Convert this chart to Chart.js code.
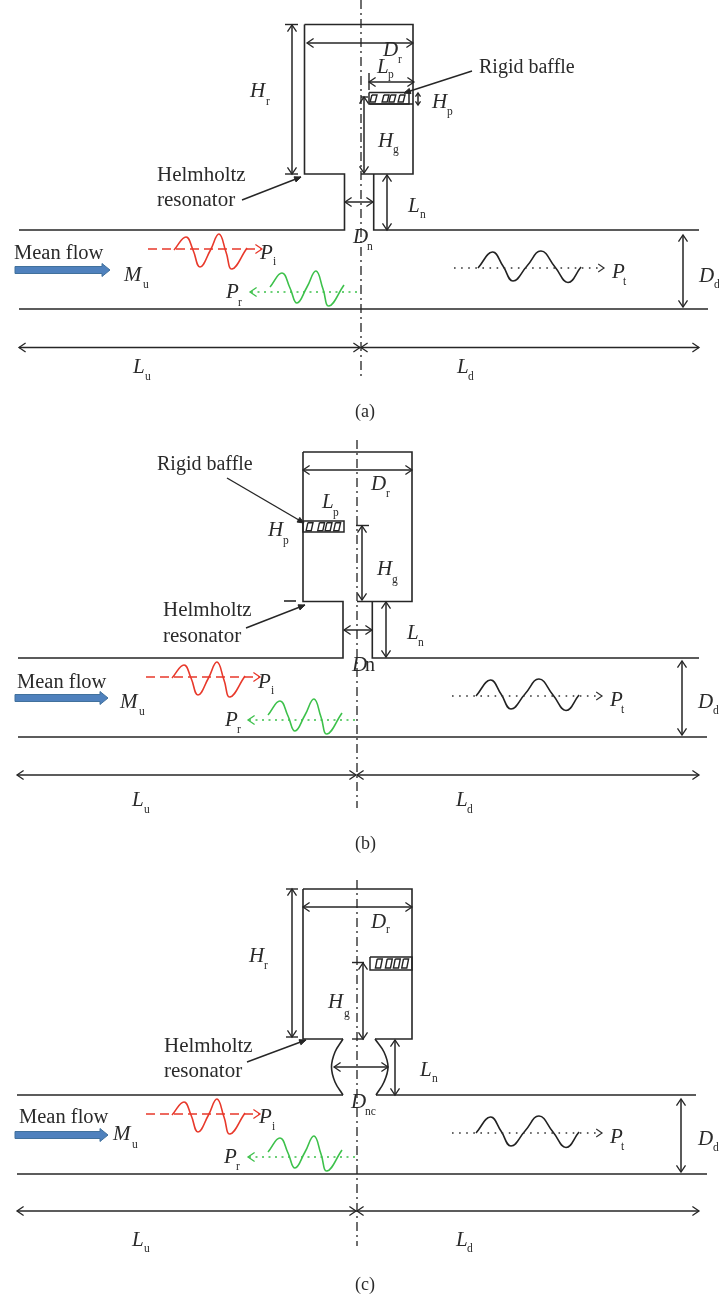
<!DOCTYPE html>
<html><head><meta charset="utf-8">
<style>html,body{margin:0;padding:0;background:#fff}canvas{display:block}</style>
<script src="https://cdn.jsdelivr.net/npm/chart.js@4"></script>
</head><body><canvas id="c" width="719" height="1299"></canvas>
<script>
// Schematic geometry in figure units: every polyline is [x,y,x,y,...]
const wallsA = [[304.5,24.5,413,24.5,413,174,361,174],[304.5,24.5,304.5,174,344.5,174,344.5,230,19,230],[373.7,174,373.7,230,699,230],[19,309,708,309],[369.5,104,413,104]];
const wallsB = [[303,452,412,452,412,601.5,357,601.5],[303,452,303,601.5,343,601.5,343,658,18,658],[372.3,601.5,372.3,658,699,658],[18,737,707,737],[284,601,296,601]];
const wallsC = [[303,889,412,889,412,1039,375,1039],[303,889,303,1039,343,1039],[17,1095,343,1095],[376,1095,696,1095],[17,1174,707,1174]];
const neckCurves = [[343,1039,335,1052,331.5,1067,335,1082,343,1095],[375,1039,384,1052,388,1067,384,1082,376,1095]];
const centerLines = [[361,0,361,378],[357,440,357,808],[357,880,357,1246]];
const ticks = [[285,24.5,298,24.5],[285,174,298,174],[369,73,369,90],[361,97,368,97],[356,525.5,369,525.5],[286,889,298,889],[286,1037,298,1037],[352,962.5,364,962.5],[352,1039,364,1039]];
const baffles = [[369,92.5,409,92.5,409,104,369,104,369,92.5],[303,521,344,521,344,532,303,532,303,521],[370,957,412,957,412,970,370,970,370,957]];
const baffleSlotsA = [370.7,382.7,389.5,398.7];
const baffleSlotsB = [306.7,318.3,325.7,334.3];
const baffleSlotsC = [376,386,394,402.3];
const slotRows = [[95,102,5.5],[522.7,530.7,5.5],[959,968,5.5]];
const dimensionArrows = [
 [307,43,413,43],[369,82,414,82],[364,97,364,173],[418,93,418,105],[292,25,292,174],[345,202,373,202],[387,175,387,230],[683,235,683,307],[19,347.5,360,347.5],[361,347.5,699,347.5],
 [303,470,412,470],[362,526,362,600],[386,602,386,657],[344,630,372,630],[682,661,682,735],[17,775,356,775],[357,775,699,775],
 [303,907,412,907],[292,889,292,1037],[363,963,363,1039],[334,1067,388,1067],[395,1040,395,1095],[681,1099,681,1172],[17,1211,356,1211],[357,1211,699,1211]];
const leaders = [[472,71,404,93],[242,200,301,177],[227,478,304,523],[246,628,305,605],[247,1062,306,1040]];
const redCurve = [[174,250],[186,237],[193,250],[200,267],[210.5,250],[219,234],[226,252],[232,269],[247,248]];
const greenCurve = [[270,287],[282,273],[290,288],[297,303],[307,287],[316,271],[323,289],[329,306],[344,285]];
const blackCurve = [[478,268],[492.5,252],[503,266],[513,281],[527,266],[541,251],[555,267],[568,282.5],[581,267]];
const panelShifts = [[0,0],[-2,428],[-2,865]];
const redRay = [148,249,262,249];
const greenRay = [357,292,250,292];
const blackRay = [454,268,604,268];
const flowArrows = [[15,110,270],[15,108,698],[15,108,1135]];
const labels = [
 ["Rigid baffle",479,73,"t"],["Helmholtz",157,181,"h"],["resonator",157,206,"h"],["Mean flow",14,259,"m"],["(a)",355,417,"c"],
 ["D",383,56,"i"],["r",398,63,"s"],["L",377,73,"i"],["p",388,78,"s"],["H",432,108,"i"],["p",447,115,"s"],["H",378,147,"i"],["g",393,153,"s"],["H",250,97,"i"],["r",266,105,"s"],["L",408,212,"i"],["n",420,218,"s"],["D",353,243,"i"],["n",367,250,"s"],["P",260,259,"i"],["i",273,265,"s"],["M",124,281,"i"],["u",143,288,"s"],["P",226,298,"i"],["r",238,306,"s"],["L",133,373,"i"],["u",145,380,"s"],["P",612,278,"i"],["t",623,285,"s"],["D",699,282,"i"],["d",714,288,"s"],["L",457,373,"i"],["d",468,380,"s"],
 ["Rigid baffle",157,470,"t"],["Helmholtz",163,616,"h"],["resonator",163,642,"h"],["Mean flow",17,688,"m"],["(b)",355,849,"c"],
 ["D",371,490,"i"],["r",386,497,"s"],["L",322,508,"i"],["p",333,516,"s"],["H",268,536,"i"],["p",283,544,"s"],["H",377,575,"i"],["g",392,583,"s"],["L",407,639,"i"],["n",418,646,"s"],["D",352,671,"i"],["n",365,671,"t"],["P",258,688,"i"],["i",271,694,"s"],["M",120,708,"i"],["u",139,715,"s"],["P",225,726,"i"],["r",237,733,"s"],["L",132,806,"i"],["u",144,813,"s"],["P",610,706,"i"],["t",621,713,"s"],["D",698,708,"i"],["d",713,714,"s"],["L",456,806,"i"],["d",467,813,"s"],
 ["Helmholtz",164,1052,"h"],["resonator",164,1077,"h"],["Mean flow",19,1123,"m"],["(c)",355,1290,"c"],
 ["D",371,928,"i"],["r",386,933,"s"],["H",249,962,"i"],["r",264,969,"s"],["H",328,1008,"i"],["g",344,1017,"s"],["L",420,1076,"i"],["n",432,1082,"s"],["D",351,1108,"i"],["nc",365,1115,"s"],["M",113,1140,"i"],["u",132,1148,"s"],["P",259,1123,"i"],["i",272,1130,"s"],["P",224,1163,"i"],["r",236,1170,"s"],["L",132,1246,"i"],["u",144,1252,"s"],["P",610,1143,"i"],["t",621,1150,"s"],["D",698,1145,"i"],["d",713,1151,"s"],["L",456,1246,"i"],["d",467,1252,"s"]
];

const INK='#262626', RED='#e8392b', GREEN='#3dc14b', BLUE='#4f81bd', BLUE_EDGE='#41719c';
const datasets=[];
const pts=a=>{const o=[];for(let i=0;i<a.length;i+=2)o.push({x:a[i],y:a[i+1]});return o;};
function line(a,color,width,dash,extra){datasets.push(Object.assign({data:pts(a),showLine:true,borderColor:color,borderWidth:width,borderDash:dash||[],pointRadius:0,pointHoverRadius:0,tension:0,fill:false,clip:false,borderCapStyle:'butt',borderJoinStyle:'miter'},extra||{}));}
function head(x1,y1,x2,y2,len,spread){const t=Math.atan2(y2-y1,x2-x1),c=(s)=>[x2-len*Math.cos(t+s),y2-len*Math.sin(t+s)];return [...c(spread),x2,y2,...c(-spread)];}
function poly(a,fillC,edge){datasets.push({data:pts(a),showLine:true,borderColor:edge,borderWidth:1,backgroundColor:fillC,pointRadius:0,tension:0,fill:'shape',clip:false});}

[...wallsA,...wallsB,...wallsC].forEach(w=>line(w,INK,1.6));
neckCurves.forEach(w=>line(w,INK,1.6,[],{tension:0.4}));
centerLines.forEach(w=>line(w,'#222',1.3,[9,4,2,4]));
ticks.forEach(w=>line(w,INK,1.4));
baffles.forEach(w=>line(w,INK,1.5));
[baffleSlotsA,baffleSlotsB,baffleSlotsC].forEach((slots,r)=>{const [top,bot,wd]=slotRows[r];slots.forEach(x=>line([x+1.2,top,x+wd+0.8,top,x+wd-1,bot,x-0.6,bot,x+1.2,top],INK,1.4));});
dimensionArrows.forEach(([a,b,c,d])=>{const short=Math.hypot(c-a,d-b)<20,l=short?4.5:8;line([a,b,c,d],INK,1.5);line(head(a,b,c,d,l,0.6),INK,1.3);line(head(c,d,a,b,l,0.6),INK,1.3);});
leaders.forEach(([a,b,c,d])=>{line([a,b,c,d],INK,1.4);const h=head(a,b,c,d,7,0.4);poly([...h,h[0],h[1]],INK,INK);});
const shifted=(list,[dx,dy])=>list.flatMap(([x,y])=>[x+dx,y+dy]);
const shiftFlat=(a,[dx,dy])=>a.map((v,i)=>i%2?v+dy:v+dx);
panelShifts.forEach(s=>{
 const r=shiftFlat(redRay,s),g=shiftFlat(greenRay,s),b=shiftFlat(blackRay,s);
 line(r,RED,1.3,[9,5]);line(head(...r,8,0.6),RED,1.3);
 line(g,GREEN,1.5,[2,4.5]);line(head(...g,8,0.6),GREEN,1.3);
 line(b,'#333',1.4,[1.6,5.5]);line(head(...b,7,0.6),'#333',1.2);
 line(shifted(redCurve,s),RED,1.6,[],{tension:0.45});
 line(shifted(greenCurve,s),GREEN,1.6,[],{tension:0.45});
 line(shifted(blackCurve,s),'#222',1.6,[],{tension:0.45});
});
flowArrows.forEach(([x0,x1,y])=>poly([x0,y-3.5,x1-8,y-3.5,x1-8,y-6.5,x1,y,x1-8,y+6.5,x1-8,y+3.5,x0,y+3.5,x0,y-3.5],BLUE,BLUE_EDGE));

const fonts={t:'20px "Liberation Serif"',h:'21px "Liberation Serif"',m:'20.5px "Liberation Serif"',c:'18px "Liberation Serif"',i:'italic 21px "Liberation Serif"',s:'11.5px "Liberation Serif"'};
const textPlugin={id:'schematicText',afterDatasetsDraw(chart){const {ctx,scales:{x,y}}=chart;ctx.save();ctx.fillStyle='#2a2a2a';ctx.textBaseline='alphabetic';ctx.textAlign='left';
 labels.forEach(([t,a,b,k])=>{ctx.font=fonts[k];ctx.fillText(t,x.getPixelForValue(a),y.getPixelForValue(b));});ctx.restore();}};

new Chart(document.getElementById('c'),{type:'scatter',data:{datasets},plugins:[textPlugin],options:{responsive:false,animation:false,events:[],layout:{padding:0},plugins:{legend:{display:false},tooltip:{enabled:false}},
 scales:{x:{type:'linear',min:0,max:719,display:false},y:{type:'linear',min:0,max:1299,reverse:true,display:false}}}});
</script></body></html>
